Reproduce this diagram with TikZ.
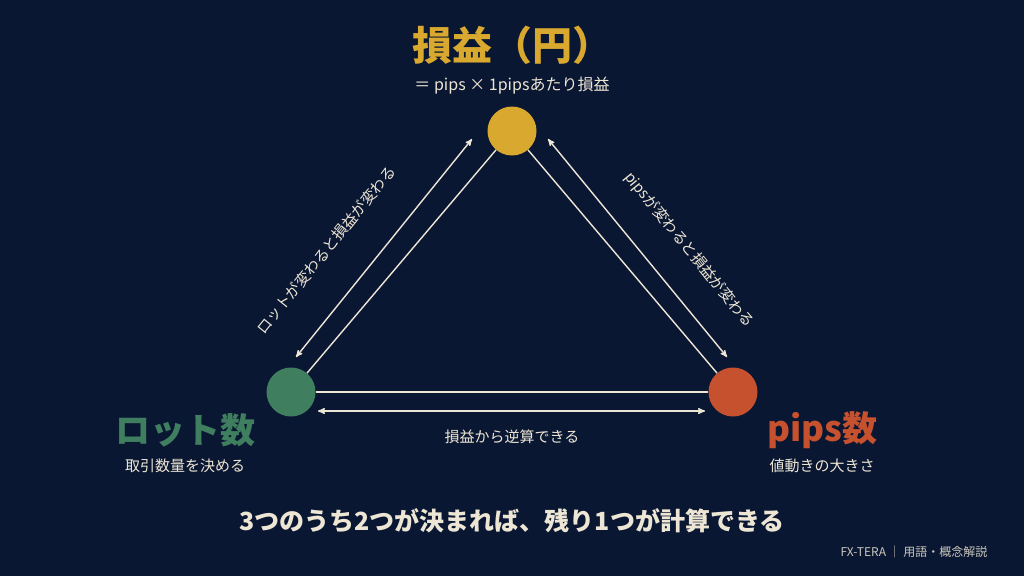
\documentclass[tikz,border=0pt]{standalone}
\usepackage{fontspec}
\setmainfont{Liberation Serif}
\newfontfamily\jp{Noto Sans CJK JP}
\usetikzlibrary{arrows,positioning,calc}
\definecolor{navy}{HTML}{0A1733}
\definecolor{gold}{HTML}{D9A82F}
\definecolor{leaf}{HTML}{3F7E5E}
\definecolor{rust}{HTML}{C5512E}
\definecolor{cream}{HTML}{EDE6D4}
\begin{document}
\begin{tikzpicture}[x=1pt,y=-1pt, every node/.style={text=cream,inner sep=0pt},
  dot/.style={circle,minimum size=49pt},
  link/.style={draw=cream,line width=1.4pt},
  rel/.style={draw=cream,line width=1.4pt,<->,>=stealth'},
  note/.style={font=\jp\fontsize{15}{15}\selectfont}]
  \fill[navy] (0,0) rectangle (1024,576);
  % corners of the triangle
  \node[dot,fill=gold] (profit) at (512,131) {};
  \node[dot,fill=leaf] (lot) at (291,392) {};
  \node[dot,fill=rust] (pips) at (733,392) {};

  % edges
  \path[link] (profit) -- (lot);
  \path[link] (profit) -- (pips);
  \path[link] (lot.east) -- (pips.west);

  % arrows beside the edges
  \coordinate (la) at (296,357); \coordinate (lb) at (472,139);
  \coordinate (ra) at (548,139); \coordinate (rb) at (727,357);
  \coordinate (ba) at (318,411); \coordinate (bb) at (705,411);
  \draw[rel] (la) -- (lb);
  \draw[rel] (ra) -- (rb);
  \draw[rel] (ba) -- (bb);

  \node[note,rotate=51] (lotnote) at (326,250) {ロットが変わると損益が変わる};
  \node[note,rotate=-51] (pipsnote) at (689,250) {pipsが変わると損益が変わる};
  \node[note] (backnote) at (512,437) {損益から逆算できる};

  % titles
  \node[text=gold,font=\jp\bfseries\fontsize{40}{40}\selectfont] (ptitle) at (512,45) {損益（円）};
  \node[font=\jp\fontsize{16}{16}\selectfont] (psub) at (512,86) {＝ pips × 1pipsあたり損益};
  \node[text=leaf,font=\jp\bfseries\fontsize{35}{35}\selectfont] (ltitle) at (185,430) {ロット数};
  \node[note] (lsub) at (185,466) {取引数量を決める};
  \node[text=rust,font=\jp\bfseries\fontsize{35}{35}\selectfont] (rtitle) at (822,430) {pips数};
  \node[note] (rsub) at (822,466) {値動きの大きさ};

  \node[font=\jp\bfseries\fontsize{25}{25}\selectfont] (rule) at (512,521) {3つのうち2つが決まれば、残り1つが計算できる};
  \node[font=\jp\fontsize{12}{12}\selectfont,text=cream!85!navy] (brand) at (914,552) {FX-TERA ｜ 用語・概念解説};
\end{tikzpicture}
\end{document}
